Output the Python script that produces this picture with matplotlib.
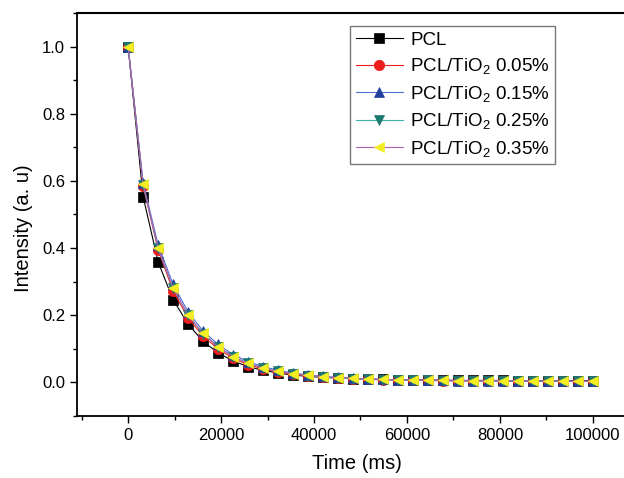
import matplotlib
matplotlib.use('Agg')
import matplotlib.pyplot as plt
from matplotlib.ticker import MultipleLocator

plt.rcParams['font.family'] = ['Liberation Sans', 'DejaVu Sans']
plt.rcParams['mathtext.fontset'] = 'custom'
plt.rcParams['mathtext.rm'] = 'Liberation Sans'
plt.rcParams['mathtext.it'] = 'Liberation Sans'

# time points (ms)
time_ms = [0, 3226, 6452, 9677, 12903, 16129, 19355, 22581, 25806, 29032,
           32258, 35484, 38710, 41935, 45161, 48387, 51613, 54839, 58065, 61290,
           64516, 67742, 70968, 74194, 77419, 80645, 83871, 87097, 90323, 93548,
           96774, 100000]

pcl = [1.0, 0.553, 0.359, 0.246, 0.174, 0.122, 0.088, 0.064, 0.047, 0.036,
       0.028, 0.022, 0.018, 0.015, 0.013, 0.011, 0.010, 0.009, 0.008, 0.008,
       0.007, 0.007, 0.006, 0.006, 0.006, 0.006, 0.005, 0.005, 0.005, 0.005,
       0.005, 0.005]
tio2_005 = [1.0, 0.585, 0.395, 0.272, 0.192, 0.138, 0.100, 0.072, 0.053, 0.040,
            0.031, 0.024, 0.019, 0.016, 0.013, 0.011, 0.009, 0.008, 0.007, 0.006,
            0.006, 0.005, 0.005, 0.004, 0.004, 0.004, 0.004, 0.003, 0.003, 0.003,
            0.003, 0.003]
tio2_015 = [1.0, 0.595, 0.410, 0.292, 0.210, 0.153, 0.113, 0.083, 0.062, 0.047,
            0.036, 0.028, 0.022, 0.018, 0.015, 0.012, 0.010, 0.009, 0.008, 0.007,
            0.006, 0.006, 0.005, 0.005, 0.005, 0.004, 0.004, 0.004, 0.004, 0.004,
            0.004, 0.004]
tio2_025 = [1.0, 0.588, 0.400, 0.280, 0.200, 0.145, 0.106, 0.077, 0.057, 0.043,
            0.033, 0.026, 0.020, 0.016, 0.013, 0.011, 0.009, 0.008, 0.007, 0.006,
            0.006, 0.005, 0.005, 0.005, 0.004, 0.004, 0.004, 0.004, 0.004, 0.003,
            0.003, 0.003]
tio2_035 = [1.0, 0.590, 0.400, 0.282, 0.200, 0.146, 0.106, 0.077, 0.057, 0.043,
            0.033, 0.026, 0.021, 0.017, 0.014, 0.012, 0.010, 0.009, 0.008, 0.007,
            0.006, 0.006, 0.005, 0.005, 0.005, 0.004, 0.004, 0.004, 0.004, 0.004,
            0.003, 0.003]

labels = ['PCL', 'PCL/TiO$_2$ 0.05%', 'PCL/TiO$_2$ 0.15%',
          'PCL/TiO$_2$ 0.25%', 'PCL/TiO$_2$ 0.35%']

fig = plt.figure(figsize=(6.24, 4.78), dpi=100)
# the frame runs off the right edge in the original, so stop the axes at the edge
ax = fig.add_axes([77 / 624, 62 / 478, 547 / 624, 403 / 478])

styles = [
    (pcl, 's', 'black', 'black'),
    (tio2_005, 'o', '#ee1c1c', '#ee1c1c'),
    (tio2_015, '^', '#2040a0', '#5070d0'),
    (tio2_025, 'v', '#1a7a72', '#40b0a8'),
    (tio2_035, '<', '#f2ee22', '#b060b0'),
]
for (vals, mk, mc, lc), lab in zip(styles, labels):
    ax.plot(time_ms, vals, color=lc, lw=0.8, marker=mk, ms=7.5,
            markerfacecolor=mc, markeredgecolor=mc, markeredgewidth=0.5,
            label=lab)

ax.set_xlim(-11000, 106700)
ax.set_ylim(-0.1, 1.1)
ax.xaxis.set_major_locator(MultipleLocator(20000))
ax.xaxis.set_minor_locator(MultipleLocator(10000))
ax.yaxis.set_major_locator(MultipleLocator(0.2))
ax.yaxis.set_minor_locator(MultipleLocator(0.1))
ax.tick_params(which='major', direction='out', length=5, width=1, labelsize=12)
ax.tick_params(which='minor', direction='out', length=3, width=1)
ax.spines['right'].set_visible(False)
for s in ax.spines.values():
    s.set_linewidth(1.3)
# top frame line, drawn explicitly so it shows up to the figure edge
ax.plot([0, 1], [1, 1], transform=ax.transAxes, color='black', lw=1.5,
        clip_on=False, zorder=5)

ax.set_xlabel('Time (ms)', fontsize=14.5)
ax.xaxis.set_label_coords(280 / 547, -38 / 403)
ax.set_ylabel('Intensity (a. u)', fontsize=14.5)
ax.yaxis.set_label_coords(-44 / 547, 0.465)

leg = ax.legend(loc='upper left', bbox_to_anchor=(350 / 624, 1 - 26 / 478),
                bbox_transform=fig.transFigure, borderaxespad=0, fontsize=13.5,
                frameon=True, fancybox=False, edgecolor='#555555',
                handlelength=2.5, handletextpad=0.4, labelspacing=0.4,
                borderpad=0.3)
leg.get_frame().set_linewidth(1.0)

fig.savefig('out.png', dpi=100)
